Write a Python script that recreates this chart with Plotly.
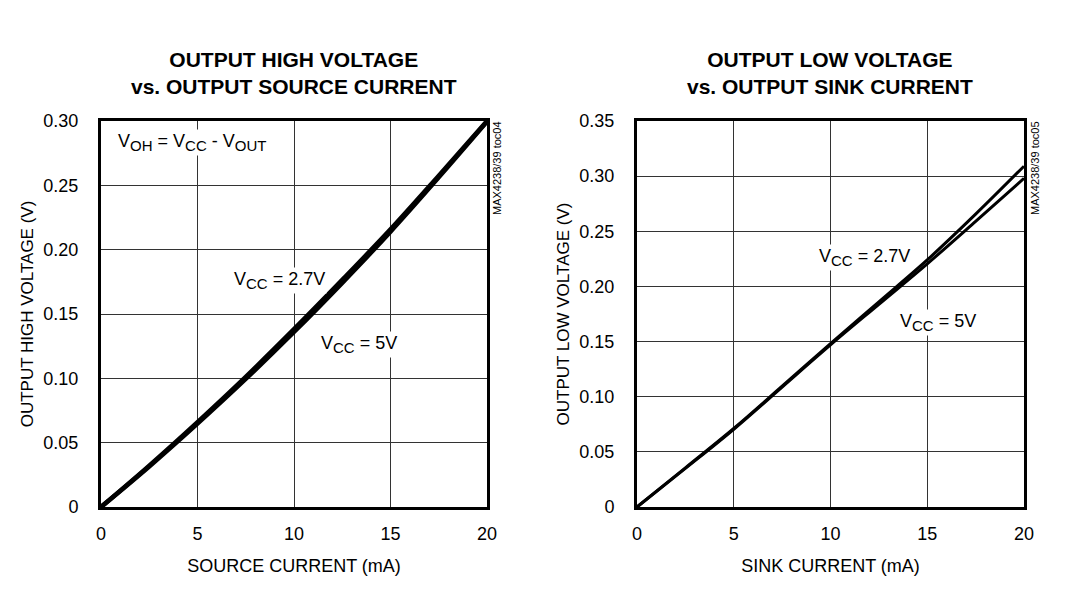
import plotly.graph_objects as go

# Left chart: output high voltage vs source current
src_x = [0, 2.5, 5, 7.5, 10, 12.5, 15, 17.5, 20]
voh_27 = [0, 0.0322, 0.0660, 0.1012, 0.1382, 0.1765, 0.2158, 0.2575, 0.3000]
voh_5 = [0, 0.0315, 0.0648, 0.0995, 0.1360, 0.1742, 0.2140, 0.2562, 0.2995]

# Right chart: output low voltage vs sink current
snk_x = [0, 2.5, 5, 7.5, 10, 12.5, 15, 17.5, 20]
vol_27 = [0, 0.0355, 0.0712, 0.1095, 0.1482, 0.1860, 0.2240, 0.2655, 0.3090]
vol_5 = [0, 0.0350, 0.0705, 0.1088, 0.1470, 0.1838, 0.2205, 0.2590, 0.2980]

x_ticks = [0, 5, 10, 15, 20]
yl_ticks = [0, 0.05, 0.10, 0.15, 0.20, 0.25, 0.30]
yl_text = ["0", "0.05", "0.10", "0.15", "0.20", "0.25", "0.30"]
yr_ticks = [0, 0.05, 0.10, 0.15, 0.20, 0.25, 0.30, 0.35]
yr_text = ["0", "0.05", "0.10", "0.15", "0.20", "0.25", "0.30", "0.35"]

FONT = "Liberation Sans, Arial, sans-serif"

fig = go.Figure()
fig.add_trace(go.Scatter(x=src_x, y=voh_27, mode="lines", line=dict(color="black", width=4.5, shape="spline"),
                         xaxis="x", yaxis="y", showlegend=False))
fig.add_trace(go.Scatter(x=src_x, y=voh_5, mode="lines", line=dict(color="black", width=4.5, shape="spline"),
                         xaxis="x", yaxis="y", showlegend=False))
fig.add_trace(go.Scatter(x=snk_x, y=vol_27, mode="lines", line=dict(color="black", width=3, shape="spline"),
                         xaxis="x2", yaxis="y2", showlegend=False))
fig.add_trace(go.Scatter(x=snk_x, y=vol_5, mode="lines", line=dict(color="black", width=3, shape="spline"),
                         xaxis="x2", yaxis="y2", showlegend=False))

ax_common = dict(showline=True, linecolor="black", linewidth=3, mirror=True,
                 showgrid=True, gridcolor="#333333", gridwidth=1, zeroline=False,
                 ticks="", automargin=False,
                 tickfont=dict(family=FONT, size=18, color="black"))

ydom = [109 / 616, 495 / 616]
fig.update_layout(
    width=1084, height=616, margin=dict(l=0, r=0, t=0, b=0),
    paper_bgcolor="white", plot_bgcolor="white",
    font=dict(family=FONT, color="black"),
    xaxis=dict(domain=[101 / 1084, 487 / 1084], range=[0, 20], tickvals=x_ticks,
               ticklabelstandoff=8,
               title=dict(text="SOURCE CURRENT (mA)", font=dict(family=FONT, size=18), standoff=17),
               **ax_common),
    yaxis=dict(domain=ydom, range=[0, 0.30], tickvals=yl_ticks, ticktext=yl_text,
               ticklabelstandoff=16,
               title=dict(text="OUTPUT HIGH VOLTAGE (V)", font=dict(family=FONT, size=17), standoff=6),
               **ax_common),
    xaxis2=dict(domain=[637 / 1084, 1024 / 1084], range=[0, 20], tickvals=x_ticks,
                anchor="y2", ticklabelstandoff=8,
                title=dict(text="SINK CURRENT (mA)", font=dict(family=FONT, size=18), standoff=17),
                **ax_common),
    yaxis2=dict(domain=ydom, range=[0, 0.35], tickvals=yr_ticks, ticktext=yr_text,
                anchor="x2", ticklabelstandoff=16,
                title=dict(text="OUTPUT LOW VOLTAGE (V)", font=dict(family=FONT, size=17), standoff=6),
                **ax_common),
)


def sub(s):
    return '<sub><span style="font-size:15px">' + s + '</span></sub>'


ann_font = dict(family=FONT, size=18, color="black")
annotations = [
    dict(x=294 / 1084, y=1 - 73 / 616, xref="paper", yref="paper", xanchor="center", yanchor="middle",
         showarrow=False, text="<b>OUTPUT HIGH VOLTAGE<br>vs. OUTPUT SOURCE CURRENT</b>",
         font=dict(family=FONT, size=21, color="black")),
    dict(x=830 / 1084, y=1 - 73 / 616, xref="paper", yref="paper", xanchor="center", yanchor="middle",
         showarrow=False, text="<b>OUTPUT LOW VOLTAGE<br>vs. OUTPUT SINK CURRENT</b>",
         font=dict(family=FONT, size=21, color="black")),
    dict(x=0.8, y=0.283, xref="x", yref="y", xanchor="left", yanchor="middle", showarrow=False, bgcolor="white",
         text="V" + sub("OH") + " = V" + sub("CC") + " - V" + sub("OUT"), font=ann_font),
    dict(x=6.8, y=0.176, xref="x", yref="y", xanchor="left", yanchor="middle", showarrow=False, bgcolor="white",
         text="V" + sub("CC") + " = 2.7V", font=ann_font),
    dict(x=11.3, y=0.126, xref="x", yref="y", xanchor="left", yanchor="middle", showarrow=False, bgcolor="white",
         text="V" + sub("CC") + " = 5V", font=ann_font),
    dict(x=9.3, y=0.226, xref="x2", yref="y2", xanchor="left", yanchor="middle", showarrow=False, bgcolor="white",
         text="V" + sub("CC") + " = 2.7V", font=ann_font),
    dict(x=13.5, y=0.167, xref="x2", yref="y2", xanchor="left", yanchor="middle", showarrow=False, bgcolor="white",
         text="V" + sub("CC") + " = 5V", font=ann_font),
    dict(x=497 / 1084, y=1 - 119 / 616, xref="paper", yref="paper", xanchor="center", yanchor="top",
         showarrow=False, textangle=-90, text="MAX4238/39 toc04",
         font=dict(family=FONT, size=11, color="black")),
    dict(x=1035 / 1084, y=1 - 119 / 616, xref="paper", yref="paper", xanchor="center", yanchor="top",
         showarrow=False, textangle=-90, text="MAX4238/39 toc05",
         font=dict(family=FONT, size=11, color="black")),
]
fig.update_layout(annotations=annotations)

fig.write_html("out.html")
